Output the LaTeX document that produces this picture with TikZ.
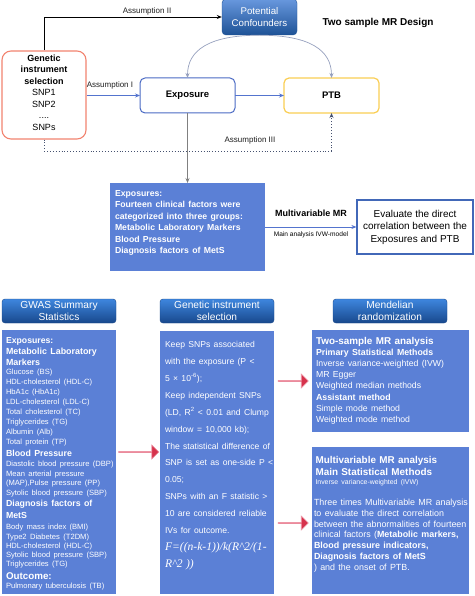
\documentclass[tikz,border=0pt]{standalone}
\usepackage{fontspec}
\setmainfont{Liberation Sans}
\newfontfamily\formfont{Liberation Serif}
\usetikzlibrary{arrows.meta,shapes.arrows}
\definecolor{boxblue}{RGB}{91,128,214}
\definecolor{hdtop}{RGB}{62,134,222}
\definecolor{hdbot}{RGB}{24,72,140}
\definecolor{cftop}{RGB}{104,152,222}
\definecolor{cfbot}{RGB}{30,82,150}
\definecolor{genred}{RGB}{242,132,112}
\definecolor{expblue}{RGB}{74,106,196}
\definecolor{ptbyel}{RGB}{250,206,84}
\definecolor{curvegray}{RGB}{150,160,190}
\definecolor{arrred}{RGB}{214,50,76}
\definecolor{arrpink}{RGB}{238,150,166}
\definecolor{linkblue}{RGB}{84,116,206}
\definecolor{dotgray}{RGB}{70,82,112}
\definecolor{evalblue}{RGB}{66,104,184}
\definecolor{txtgray}{RGB}{30,30,30}
\newcommand{\Ln}[3]{{\fontsize{#1}{#2}\selectfont #3\par}}
\newcommand{\Fs}[2]{\fontsize{#1}{#2}\selectfont}
\newcommand{\TopLn}{\hbox{}\par}
\tikzset{
  fillbox/.style={fill=boxblue, draw=none, inner sep=0, outer sep=0, anchor=north west},
  header/.style={rounded corners=3pt, top color=hdtop, bottom color=hdbot, draw=hdbot, line width=0.4pt, text=white, minimum width=114, minimum height=24, align=center, font=\Fs{10.2}{12.4}, inner sep=0, outer sep=0},
  boxtext/.style={anchor=north west, inner sep=0, outer sep=0, text width=170pt, align=left, text=white},
  redarrow/.style={single arrow, fill=arrred, draw=arrpink, line width=0.6pt, minimum width=14, single arrow head extend=3.5, inner sep=0, outer sep=0},
  lbl/.style={inner sep=0, text=txtgray, font=\Fs{8}{9}},
  topbox/.style={draw, fill=white, line width=1pt, rounded corners=5pt, minimum width=95, minimum height=35, inner sep=0, outer sep=0, font=\bfseries\Fs{9.5}{11}},
}
\begin{document}
\begin{tikzpicture}[x=1pt,y=-1pt,>={Stealth[length=5pt,width=4pt]}]
\useasboundingbox (0,0) rectangle (474,596);
\fill[white] (0,0) rectangle (474,596);
% ---------- top part ----------
\node[rounded corners=4pt, top color=cftop, bottom color=cfbot, draw=cfbot, text=white, minimum width=75, minimum height=36, align=center, font=\Fs{9.7}{12.5}, inner sep=0] (conf) at (259.5,17) {Potential\\Confounders};
\node[font=\bfseries\Fs{10}{12}, inner sep=0] (title) at (378,23) {Two sample MR Design};
\node[draw=genred, line width=1.1pt, rounded corners=9pt, minimum width=84, minimum height=88, align=center, font=\Fs{9}{11.5}, inner sep=0] (gen) at (44,95) {\textbf{Genetic}\\\textbf{instrument}\\\textbf{selection}\\SNP1\\SNP2\\....\\SNPs\\[-6pt]\mbox{}};
\node[topbox, draw=expblue] (expo) at (187.5,95.5) {Exposure};
\node[topbox, draw=ptbyel, line width=1.2pt] (ptb) at (331.5,95.5) {PTB};
\node[fillbox, minimum width=155, minimum height=88] (expbox) at (110,183) {};
\node[boxtext] (expT) at (115,183) {\TopLn
\Ln{8.7}{13}{\bfseries Exposures:}%
\Ln{8.7}{11.5}{\bfseries Fourteen clinical factors were}%
\Ln{8.7}{11.5}{\bfseries categorized into three groups:}%
\Ln{8.7}{11.5}{\bfseries Metabolic Laboratory Markers}%
\Ln{8.7}{11.5}{\bfseries Blood Pressure}%
\Ln{8.7}{11.5}{\bfseries Diagnosis factors of MetS}};
\node[draw=evalblue, line width=1.2pt, minimum width=116, minimum height=54, align=center, font=\Fs{10}{12.5}, inner sep=0] (eval) at (415,227) {Evaluate the direct\\correlation between the\\Exposures and PTB};
\node[font=\bfseries\Fs{9}{10}, inner sep=0] (mvlbl) at (311,213) {Multivariable MR};
\node[font=\Fs{6.6}{8}, inner sep=0] (ivwlbl) at (311,235) {Main analysis IVW-model};
% connectors top
\draw[->, line width=0.8pt] (gen.north) |- (conf.west);
\node[lbl] (a2) at (147,11) {Assumption II};
\draw[->, linkblue, line width=0.8pt] (gen.east |- expo.west) -- (expo.west);
\node[lbl] (a1) at (110,85) {Assumption I};
\draw[->, linkblue, line width=0.8pt] (expo.east) -- (ptb.west);
\draw[->, curvegray, line width=0.7pt] (conf.south) .. controls +(-50,0) and +(0,-28) .. (expo.north);
\draw[->, curvegray, line width=0.7pt] (conf.south) .. controls +(50,0) and +(0,-28) .. (ptb.north);
\coordinate (dotR) at (331.5,151);
\draw[->, dotgray, dotted, line width=0.9pt] (gen.south) |- (dotR) -- (ptb.south);
\node[lbl] (a3) at (250,140) {Assumption III};
\draw[->, gray, line width=0.7pt] (expo.south) -- (expbox.north);
\draw[->, linkblue, line width=0.7pt] (expbox.east) -- (eval.west);
% ---------- bottom part ----------
\node[header] (h1) at (59,311) {GWAS Summary\\Statistics};
\node[header] (h2) at (217,311) {Genetic instrument\\selection};
\node[header] (h3) at (390,311) {Mendelian\\randomization};
\node[fillbox, minimum width=114, minimum height=264] (c1) at (2,330) {};
\node[fillbox, minimum width=114, minimum height=263] (c2) at (160,331) {};
\node[fillbox, minimum width=157, minimum height=102] (c3) at (312,330) {};
\node[fillbox, minimum width=157, minimum height=147] (c4) at (312,447) {};
\node[redarrow, minimum height=40] (r1) at (138.5,452) {};
\node[redarrow, minimum height=30] (r2) at (293,381) {};
\node[redarrow, minimum height=30] (r3) at (293,523) {};
\node[boxtext] (t1) at (6,330) {\TopLn
\Ln{8.7}{13.1}{\bfseries Exposures:}%
\Ln{8.9}{11.1}{\bfseries Metabolic Laboratory}%
\Ln{8.9}{11}{\bfseries Markers}%
\Ln{7.6}{9.3}{Glucose (BS)}%
\Ln{7.6}{10}{HDL-cholesterol (HDL-C)}%
\Ln{7.6}{10}{HbA1c (HbA1c)}%
\Ln{7.6}{10}{LDL-cholesterol (LDL-C)}%
\Ln{7.6}{10}{Total cholesterol (TC)}%
\Ln{7.6}{10}{Triglycerides (TG)}%
\Ln{7.6}{10}{Albumin (Alb)}%
\Ln{7.6}{10}{Total protein (TP)}%
\Ln{8.8}{11.7}{\bfseries Blood Pressure}%
\Ln{7.6}{10.3}{Diastolic blood pressure (DBP)}%
\Ln{7.6}{9.7}{Mean arterial pressure}%
\Ln{7.6}{9.7}{(MAP),Pulse pressure (PP)}%
\Ln{7.6}{9.7}{Sytolic blood pressure (SBP)}%
\Ln{8.8}{10.6}{\bfseries Diagnosis factors of}%
\Ln{8.8}{12}{\bfseries MetS}%
\Ln{7.6}{11.5}{Body mass index (BMI)}%
\Ln{7.6}{9.3}{Type2 Diabetes (T2DM)}%
\Ln{7.6}{9.2}{HDL-cholesterol (HDL-C)}%
\Ln{7.6}{9.3}{Sytolic blood pressure (SBP)}%
\Ln{7.6}{9.2}{Triglycerides (TG)}%
\Ln{9.8}{12.7}{\bfseries Outcome:}%
\Ln{7.6}{9.3}{Pulmonary tuberculosis (TB)}};
\node[boxtext] (t2) at (165,331) {\TopLn
\Ln{8.6}{16.6}{Keep SNPs associated}%
\Ln{8.6}{16.9}{with the exposure (P <}%
\Ln{8.6}{16.9}{5 × 10\textsuperscript{-6});}%
\Ln{8.6}{16.9}{Keep independent SNPs}%
\Ln{8.6}{16.9}{(LD, R\textsuperscript{2} < 0.01 and Clump}%
\Ln{8.6}{16.9}{window = 10,000 kb);}%
\Ln{8.6}{16.9}{The statistical difference of}%
\Ln{8.6}{16.9}{SNP is set as one-side P <}%
\Ln{8.6}{16.9}{0.05;}%
\Ln{8.6}{16.9}{SNPs with an F statistic >}%
\Ln{8.6}{16.9}{10 are considered reliable}%
\Ln{8.6}{16.9}{IVs for outcome.}%
\Ln{11.6}{16.9}{\formfont\itshape F=((n-k-1))/k(R\textasciicircum 2/(1-}%
\Ln{11.6}{16.9}{\formfont\itshape R\textasciicircum 2 ))}};
\node[boxtext] (t3) at (316,330) {\TopLn
\Ln{9.9}{14.1}{\bfseries Two-sample MR analysis}%
\Ln{8.8}{11.2}{\bfseries Primary Statistical Methods}%
\Ln{8.7}{11.2}{Inverse variance-weighted (IVW)}%
\Ln{8.7}{11.2}{MR Egger}%
\Ln{8.7}{11.2}{Weighted median methods}%
\Ln{8.8}{11.2}{\bfseries Assistant method}%
\Ln{8.7}{11.2}{Simple mode method}%
\Ln{8.7}{11.2}{Weighted mode method}};
\node[boxtext] (t4) at (314,447) {\TopLn
\Ln{9.9}{16.5}{\hspace*{1.5pt}\bfseries Multivariable MR analysis}%
\Ln{9.9}{12}{\hspace*{1.5pt}\bfseries Main Statistical Methods}%
\Ln{6.9}{9.2}{\hspace*{1.5pt}Inverse variance-weighted (IVW)}%
\Ln{8.9}{20.5}{Three times Multivariable MR analysis}%
\Ln{8.9}{10.9}{to evaluate the direct correlation}%
\Ln{8.9}{10.9}{between the abnormalities of fourteen}%
\Ln{8.9}{10.9}{clinical factors (\textbf{Metabolic markers,}}%
\Ln{8.9}{10.9}{\bfseries Blood pressure indicators,}%
\Ln{8.9}{10.9}{\bfseries Diagnosis factors of MetS}%
\Ln{8.9}{10.9}{) and the onset of PTB.}};
\end{tikzpicture}
\end{document}
